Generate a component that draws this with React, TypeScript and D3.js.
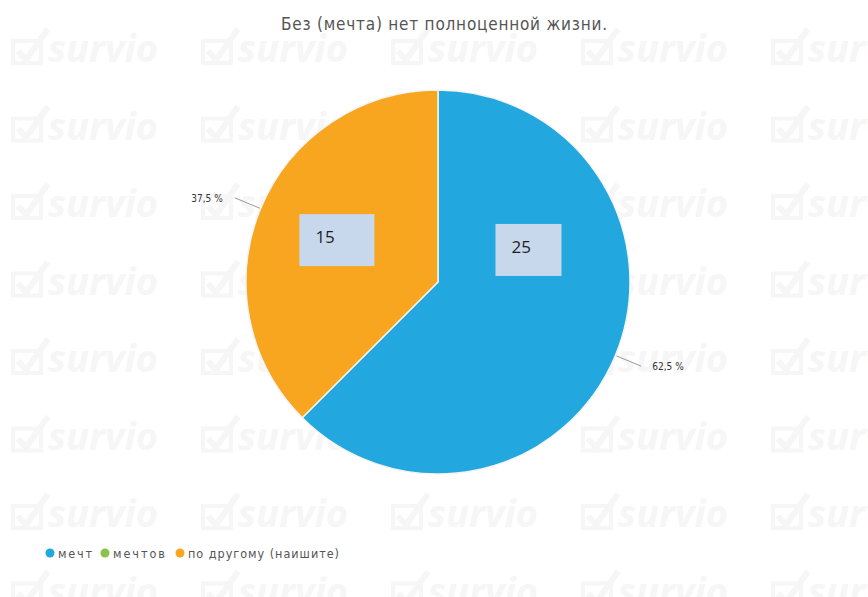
import {useEffect, useRef} from "react";
import * as d3 from "d3";

const title = "Без (мечта) нет полноценной жизни.";
const categories = ["мечт", "мечтов", "по другому (наишите)"];
const values = [25, 0, 15];
const colors = ["#22a7df", "#8bc34a", "#f8a51f"];
const percentLabels = ["62,5 %", "", "37,5 %"];
// where the value box sits inside each slice (angle shift in degrees, radius fraction)
const boxAngleShift = [-42, 0, 0];
const boxRadius = [0.5, 0, 0.57];

const watermarkCols = [0, 1, 2, 3, 4];
const watermarkRows = [0, 1, 2, 3, 4, 5, 6, 7];

export default function App() {
  const svgRef = useRef<SVGSVGElement>(null);

  useEffect(() => {
    if (!svgRef.current) return;
    const width = 868;
    const height = 597;
    const cx = 438;
    const cy = 282;
    const r = 192;
    const condensed = "'DejaVu Sans Condensed', 'DejaVu Sans', sans-serif";

    const svg = d3.select(svgRef.current);
    svg.selectAll("*").remove();
    svg.attr("width", width).attr("height", height).style("background", "#fff");

    // Фон с водяными знаками
    const wm = svg.append("g").attr("fill", "#f6f6f6").attr("stroke", "#f6f6f6");
    watermarkRows.forEach((row) => {
      watermarkCols.forEach((col) => {
        const x = 12 + col * 190;
        const y = 33 + row * 77.5;
        const g = wm.append("g").attr("transform", `translate(${x},${y})`);
        g.append("rect")
          .attr("x", 1)
          .attr("y", 8)
          .attr("width", 28)
          .attr("height", 22)
          .attr("fill", "none")
          .attr("stroke-width", 4);
        g.append("path")
          .attr("d", "M6,18 L14,27 L36,-4")
          .attr("fill", "none")
          .attr("stroke-width", 6);
        g.append("text")
          .attr("x", 36)
          .attr("y", 29)
          .attr("stroke", "none")
          .style("font-family", "'Open Sans', sans-serif")
          .style("font-weight", "bold")
          .style("font-style", "italic")
          .style("font-size", "38px")
          .text("survio");
      });
    });

    // Заголовок
    svg.append("text")
      .attr("x", 444)
      .attr("y", 30)
      .attr("text-anchor", "middle")
      .attr("textLength", 326)
      .attr("lengthAdjust", "spacing")
      .style("font-family", condensed)
      .style("font-size", "17px")
      .attr("fill", "#555")
      .text(title);

    const data = categories.map((c, i) => ({name: c, value: values[i], i}));
    const pie = d3.pie<{name: string; value: number; i: number}>()
      .sort(null)
      .value((d) => d.value)
      .startAngle(0)
      .endAngle(2 * Math.PI);
    const arcs = pie(data).filter((d) => d.data.value > 0);
    const arc = d3.arc<d3.PieArcDatum<{name: string; value: number; i: number}>>()
      .innerRadius(0)
      .outerRadius(r);

    const g = svg.append("g").attr("transform", `translate(${cx},${cy})`);
    g.selectAll("path.slice")
      .data(arcs)
      .enter()
      .append("path")
      .attr("class", "slice")
      .attr("d", arc)
      .attr("fill", (d) => colors[d.data.i])
      .attr("stroke", "#f4f4f4")
      .attr("stroke-width", 1.5);

    const pt = (a: number, rr: number) => [Math.sin(a) * rr, -Math.cos(a) * rr];

    // Выноски с процентами
    arcs.forEach((d) => {
      const mid = (d.startAngle + d.endAngle) / 2;
      const p0 = pt(mid, r + 1);
      const p1 = pt(mid, r + 28);
      g.append("line")
        .attr("x1", p0[0]).attr("y1", p0[1])
        .attr("x2", p1[0]).attr("y2", p1[1])
        .attr("stroke", "#9a9a9a")
        .attr("stroke-width", 1);
      const right = Math.sin(mid) > 0;
      g.append("text")
        .attr("x", p1[0] + (right ? 11 : -12))
        .attr("y", p1[1] + 4)
        .attr("text-anchor", right ? "start" : "end")
        .style("font-family", condensed)
        .style("font-size", "10px")
        .attr("fill", "#333")
        .text(percentLabels[d.data.i]);
    });

    // Значения в прямоугольниках
    arcs.forEach((d) => {
      const mid = (d.startAngle + d.endAngle) / 2 + (boxAngleShift[d.data.i] * Math.PI) / 180;
      const p = pt(mid, r * boxRadius[d.data.i]);
      const bw = d.data.i === 0 ? 66 : 75;
      const bh = 52;
      g.append("rect")
        .attr("x", p[0] - bw / 2)
        .attr("y", p[1] - bh / 2)
        .attr("width", bw)
        .attr("height", bh)
        .attr("fill", "#c8d8ec");
      g.append("text")
        .attr("x", p[0] - bw / 2 + 16)
        .attr("y", p[1] + 3)
        .style("font-family", "'Open Sans', sans-serif")
        .style("font-size", "17px")
        .attr("fill", "#1e1e1e")
        .text(String(d.data.value));
    });

    // Легенда
    const legend = svg.append("g").attr("transform", "translate(50,553)");
    const offsets = [0, 55, 130];
    const textWidths = [34, 52, 151];
    categories.forEach((c, i) => {
      legend.append("circle")
        .attr("cx", offsets[i])
        .attr("cy", 0)
        .attr("r", 4.5)
        .attr("fill", colors[i]);
      legend.append("text")
        .attr("x", offsets[i] + 8)
        .attr("y", 4.5)
        .attr("textLength", textWidths[i])
        .attr("lengthAdjust", "spacing")
        .style("font-family", condensed)
        .style("font-size", "12.5px")
        .attr("fill", "#555")
        .text(c);
    });
  }, []);

  return <svg ref={svgRef} style={{display: "block", position: "absolute", left: 0, top: 0}}></svg>;
}
